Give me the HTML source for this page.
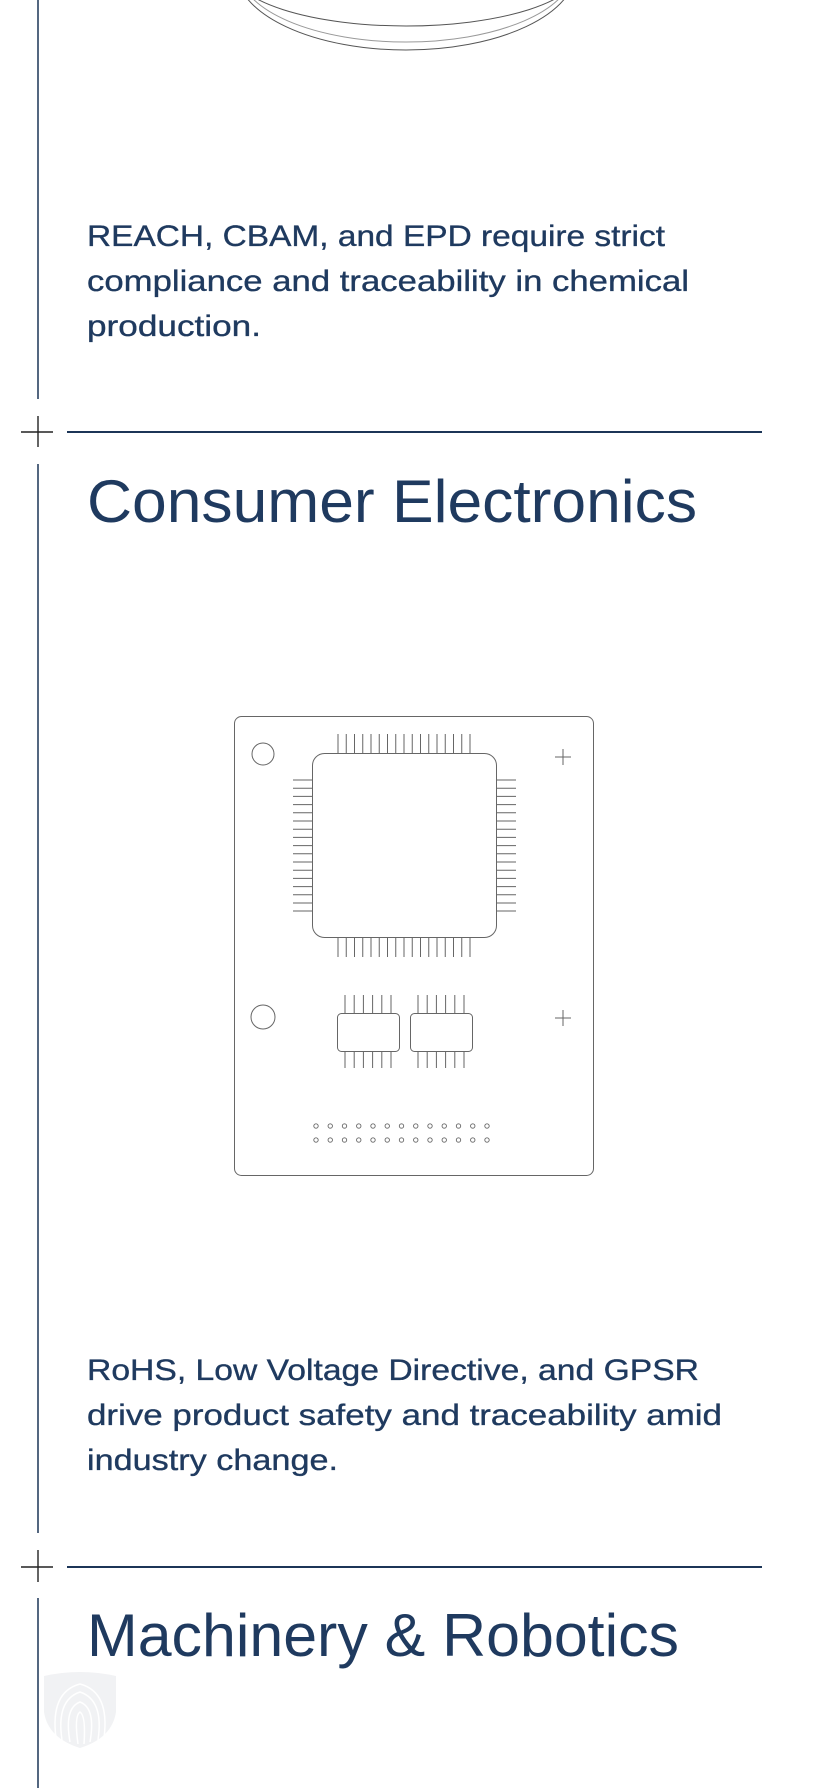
<!DOCTYPE html>
<html><head><meta charset="utf-8"><style>
html,body{margin:0;padding:0;background:#fff;}
svg{display:block;}
text{font-family:"Liberation Sans",sans-serif;fill:#1f3a5f;}
.b{stroke:#1f3a5f;stroke-width:0.35;}
</style></head><body>
<svg width="824" height="1788" viewBox="0 0 824 1788" xmlns="http://www.w3.org/2000/svg">
<g fill="none" stroke="#555" stroke-width="1">
<ellipse cx="406" cy="-30" rx="170" ry="80"/>
<ellipse cx="406" cy="-30" rx="167" ry="72" stroke="#999"/>
<ellipse cx="406" cy="-30" rx="174" ry="56"/>
</g>
<g stroke="#1c3557" stroke-width="1.5">
<line x1="38" y1="0" x2="38" y2="399"/>
<line x1="38" y1="464" x2="38" y2="1533"/>
<line x1="38" y1="1598" x2="38" y2="1788"/>
<line x1="67" y1="432" x2="762" y2="432" stroke-width="2"/>
<line x1="67" y1="1567" x2="762" y2="1567" stroke-width="2"/>
</g>
<g stroke="#222" stroke-width="1.4">
<line x1="21" y1="432" x2="53" y2="432"/><line x1="38" y1="416" x2="38" y2="447"/>
<line x1="21" y1="1567" x2="53" y2="1567"/><line x1="38" y1="1550" x2="38" y2="1582"/>
</g>
<text class="b" x="87" y="246" font-size="30" textLength="578" lengthAdjust="spacingAndGlyphs">REACH, CBAM, and EPD require strict</text>
<text class="b" x="87" y="291" font-size="30" textLength="602" lengthAdjust="spacingAndGlyphs">compliance and traceability in chemical</text>
<text class="b" x="87" y="336" font-size="30" textLength="174" lengthAdjust="spacingAndGlyphs">production.</text>
<text x="87" y="522" font-size="60" font-weight="300" textLength="610" lengthAdjust="spacingAndGlyphs">Consumer Electronics</text>
<g fill="none" stroke="#666" stroke-width="1">
<rect x="234.5" y="716.5" width="359" height="459" rx="7"/>
<circle cx="263" cy="754" r="11"/>
<circle cx="263" cy="1017" r="12"/>
<path d="M555 757h16M563 749v16M555 1018h16M563 1010v16"/>
<rect x="312.5" y="753.5" width="184" height="184" rx="12"/>
<rect x="337.5" y="1013.5" width="62" height="38" rx="4"/>
<rect x="410.5" y="1013.5" width="62" height="38" rx="4"/>
</g>
<g stroke="#666" stroke-width="1">
<path d="M338 734v19M346.25 734v19M354.5 734v19M362.75 734v19M371 734v19M379.25 734v19M387.5 734v19M395.75 734v19M404 734v19M412.25 734v19M420.5 734v19M428.75 734v19M437 734v19M445.25 734v19M453.5 734v19M461.75 734v19M470 734v19"/>
<path d="M338 937v20M346.25 937v20M354.5 937v20M362.75 937v20M371 937v20M379.25 937v20M387.5 937v20M395.75 937v20M404 937v20M412.25 937v20M420.5 937v20M428.75 937v20M437 937v20M445.25 937v20M453.5 937v20M461.75 937v20M470 937v20"/>
<path d="M293 780h19M293 788.2h19M293 796.4h19M293 804.6h19M293 812.8h19M293 821h19M293 829.2h19M293 837.4h19M293 845.6h19M293 853.8h19M293 862h19M293 870.2h19M293 878.4h19M293 886.6h19M293 894.8h19M293 903h19M293 911h19"/>
<path d="M497 780h19M497 788.2h19M497 796.4h19M497 804.6h19M497 812.8h19M497 821h19M497 829.2h19M497 837.4h19M497 845.6h19M497 853.8h19M497 862h19M497 870.2h19M497 878.4h19M497 886.6h19M497 894.8h19M497 903h19M497 911h19"/>
<path d="M345 995v18M354.2 995v18M363.4 995v18M372.6 995v18M381.8 995v18M391 995v18M345 1052v16M354.2 1052v16M363.4 1052v16M372.6 1052v16M381.8 1052v16M391 1052v16"/>
<path d="M418 995v18M427.2 995v18M436.4 995v18M445.6 995v18M454.8 995v18M464 995v18M418 1052v16M427.2 1052v16M436.4 1052v16M445.6 1052v16M454.8 1052v16M464 1052v16"/>
</g>
<g fill="none" stroke="#666" stroke-width="0.9">
<circle cx="316" cy="1126" r="2.2"/><circle cx="330.25" cy="1126" r="2.2"/><circle cx="344.5" cy="1126" r="2.2"/><circle cx="358.75" cy="1126" r="2.2"/><circle cx="373" cy="1126" r="2.2"/><circle cx="387.25" cy="1126" r="2.2"/><circle cx="401.5" cy="1126" r="2.2"/><circle cx="415.75" cy="1126" r="2.2"/><circle cx="430" cy="1126" r="2.2"/><circle cx="444.25" cy="1126" r="2.2"/><circle cx="458.5" cy="1126" r="2.2"/><circle cx="472.75" cy="1126" r="2.2"/><circle cx="487" cy="1126" r="2.2"/>
<circle cx="316" cy="1140" r="2.2"/><circle cx="330.25" cy="1140" r="2.2"/><circle cx="344.5" cy="1140" r="2.2"/><circle cx="358.75" cy="1140" r="2.2"/><circle cx="373" cy="1140" r="2.2"/><circle cx="387.25" cy="1140" r="2.2"/><circle cx="401.5" cy="1140" r="2.2"/><circle cx="415.75" cy="1140" r="2.2"/><circle cx="430" cy="1140" r="2.2"/><circle cx="444.25" cy="1140" r="2.2"/><circle cx="458.5" cy="1140" r="2.2"/><circle cx="472.75" cy="1140" r="2.2"/><circle cx="487" cy="1140" r="2.2"/>
</g>
<text class="b" x="87" y="1380" font-size="30" textLength="612" lengthAdjust="spacingAndGlyphs">RoHS, Low Voltage Directive, and GPSR</text>
<text class="b" x="87" y="1425" font-size="30" textLength="635" lengthAdjust="spacingAndGlyphs">drive product safety and traceability amid</text>
<text class="b" x="87" y="1470" font-size="30" textLength="251" lengthAdjust="spacingAndGlyphs">industry change.</text>
<text x="87" y="1656" font-size="60" font-weight="300" textLength="592" lengthAdjust="spacingAndGlyphs">Machinery &amp; Robotics</text>
<path d="M44 1676 Q80 1668 116 1676 L116 1712 Q112 1738 80 1748 Q48 1738 44 1712 Z" fill="#f1f2f4"/>
<g fill="none" stroke="#fff" stroke-width="1.5">
<path d="M56 1738 Q50 1692 80 1684 Q110 1692 104 1738"/>
<path d="M62 1740 Q56 1700 80 1692 Q104 1700 98 1740"/>
<path d="M70 1742 Q64 1708 80 1702 Q96 1708 90 1742"/>
<path d="M78 1744 Q74 1716 80 1712 Q86 1716 84 1744"/>
</g>
</svg>
</body></html>
